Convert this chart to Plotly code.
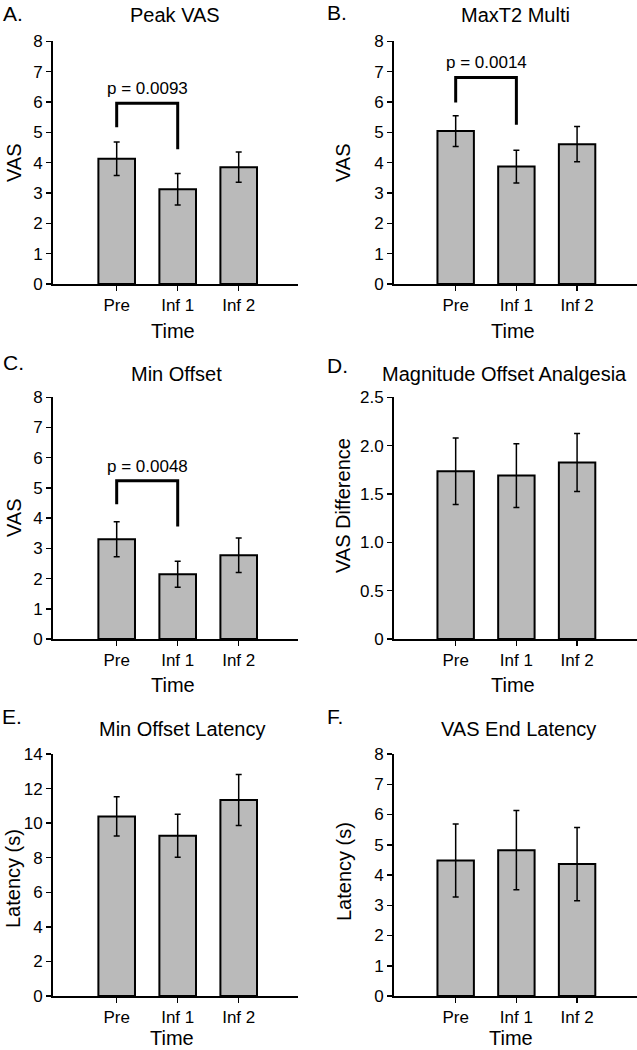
import plotly.graph_objects as go
from plotly.subplots import make_subplots

# ---------------- data ----------------
categories = ["Pre", "Inf 1", "Inf 2"]

peak_vas = [4.13, 3.12, 3.85]
peak_vas_err = [0.55, 0.52, 0.50]

maxt2_multi = [5.04, 3.87, 4.61]
maxt2_multi_err = [0.51, 0.54, 0.58]

min_offset = [3.30, 2.14, 2.77]
min_offset_err = [0.58, 0.43, 0.57]

magnitude_offset = [1.735, 1.69, 1.825]
magnitude_offset_err = [0.345, 0.33, 0.30]

min_offset_latency = [10.39, 9.27, 11.34]
min_offset_latency_err = [1.13, 1.24, 1.47]

vas_end_latency = [4.48, 4.82, 4.36]
vas_end_latency_err = [1.21, 1.31, 1.21]

# significance brackets: [left leg bottom, top, right leg bottom], p-text height, label
bracket_a = [5.17, 5.96, 4.44]
p_a_y, p_a_text = 6.46, "p = 0.0093"
bracket_b = [5.98, 6.81, 5.25]
p_b_y, p_b_text = 7.31, "p = 0.0014"
bracket_c = [4.46, 5.24, 3.72]
p_c_y, p_c_text = 5.70, "p = 0.0048"

titles = ["Peak VAS", "MaxT2 Multi", "Min Offset", "Magnitude Offset Analgesia",
          "Min Offset Latency", "VAS End Latency"]
letters = ["A.", "B.", "C.", "D.", "E.", "F."]
y_titles = ["VAS", "VAS", "VAS", "VAS Difference", "Latency (s)", "Latency (s)"]

y_ticks = [
    [0, 1, 2, 3, 4, 5, 6, 7, 8],
    [0, 1, 2, 3, 4, 5, 6, 7, 8],
    [0, 1, 2, 3, 4, 5, 6, 7, 8],
    [0, 0.5, 1.0, 1.5, 2.0, 2.5],
    [0, 2, 4, 6, 8, 10, 12, 14],
    [0, 1, 2, 3, 4, 5, 6, 7, 8],
]
y_ticktext = [
    ["0", "1", "2", "3", "4", "5", "6", "7", "8"],
    ["0", "1", "2", "3", "4", "5", "6", "7", "8"],
    ["0", "1", "2", "3", "4", "5", "6", "7", "8"],
    ["0", "0.5", "1.0", "1.5", "2.0", "2.5"],
    ["0", "2", "4", "6", "8", "10", "12", "14"],
    ["0", "1", "2", "3", "4", "5", "6", "7", "8"],
]
y_max = [8, 8, 8, 2.5, 14, 8]

values = [peak_vas, maxt2_multi, min_offset, magnitude_offset, min_offset_latency, vas_end_latency]
errors = [peak_vas_err, maxt2_multi_err, min_offset_err, magnitude_offset_err,
          min_offset_latency_err, vas_end_latency_err]

# ---------------- layout geometry (pixels) ----------------
W, H = 637, 1050
FONT = "Liberation Sans, Arial, sans-serif"
BAR_COLOR = "#bababa"

rows_px = [(41.3, 284.0), (397.3, 639.0), (754.0, 996.0)]
cols_px = [(53.0, 298.0), (394.0, 637.0)]
x_ranges = [[-1.044, 2.972], [-1.016, 2.987]]


def px_x(x):
    return x / W


def px_y(y):
    return 1 - y / H


fig = make_subplots(rows=3, cols=2)

for i in range(6):
    r, c = i // 2 + 1, i % 2 + 1
    fig.add_trace(
        go.Bar(
            x=categories,
            y=values[i],
            width=0.6,
            marker=dict(color=BAR_COLOR, line=dict(color="black", width=2)),
            error_y=dict(type="data", array=errors[i], visible=True,
                         color="black", thickness=1.5, width=3),
            showlegend=False,
            hoverinfo="skip",
        ),
        row=r, col=c,
    )

# brackets
for (br, (r, c)) in zip([bracket_a, bracket_b, bracket_c], [(1, 1), (1, 2), (2, 1)]):
    fig.add_trace(
        go.Scatter(
            x=[categories[0], categories[0], categories[1], categories[1]],
            y=[br[0], br[1], br[1], br[2]],
            mode="lines",
            line=dict(color="black", width=3),
            showlegend=False,
            hoverinfo="skip",
        ),
        row=r, col=c,
    )

axis_common = dict(
    showgrid=False, zeroline=False, showline=True, linecolor="black", linewidth=2,
    ticks="outside", ticklen=5, tickwidth=1.5, tickcolor="black",
    tickfont=dict(family=FONT, size=17, color="black"),
    automargin=False,
)

layout_updates = {}
for i in range(6):
    r, c = i // 2, i % 2
    n = "" if i == 0 else str(i + 1)
    x0, x1 = cols_px[c]
    y0, y1 = rows_px[r]
    layout_updates["xaxis" + n] = dict(
        axis_common, domain=[px_x(x0), px_x(x1)], range=x_ranges[c],
        type="category",
    )
    layout_updates["yaxis" + n] = dict(
        axis_common, domain=[px_y(y1), px_y(y0)], range=[0, y_max[i]],
        tickvals=y_ticks[i], ticktext=y_ticktext[i],
    )
fig.update_layout(**layout_updates)

annotations = []


def ann(text, x, y, size, angle=0, xanchor="center"):
    annotations.append(dict(
        text=text, x=px_x(x), y=px_y(y), xref="paper", yref="paper",
        showarrow=False, textangle=angle, xanchor=xanchor, yanchor="middle",
        font=dict(family=FONT, size=size, color="black"),
    ))


# titles
title_pos = [(175, 15), (515, 15), (176, 374), (504, 374), (182, 729), (518, 729)]
for t, (x, y) in zip(titles, title_pos):
    ann(t, x, y, 20)

# panel letters
letter_pos = [(1, 13), (325, 12), (1, 363), (325, 365), (0, 716), (325, 716)]
for t, (x, y) in zip(letters, letter_pos):
    ann(t, x, y, 21, xanchor="left")

# y titles
ytitle_pos = [(14, 163), (343, 163), (14, 518), (343, 506), (13, 879), (344, 872)]
for t, (x, y) in zip(y_titles, ytitle_pos):
    ann(t, x, y, 20, angle=-90)

# x titles
xtitle_pos = [(173, 331), (513, 331), (173, 685), (513, 685), (172, 1038), (511, 1038)]
for (x, y) in xtitle_pos:
    ann("Time", x, y, 20)

# p-values (data coordinates)
for (txt, py, xr, yr) in [(p_a_text, p_a_y, "x", "y"), (p_b_text, p_b_y, "x2", "y2"),
                          (p_c_text, p_c_y, "x3", "y3")]:
    annotations.append(dict(
        text=txt, x=0.5, y=py, xref=xr, yref=yr, showarrow=False,
        xanchor="center", yanchor="middle",
        font=dict(family=FONT, size=17, color="black"),
    ))

fig.update_layout(
    template="none",
    width=W, height=H,
    margin=dict(l=0, r=0, t=0, b=0, autoexpand=False),
    paper_bgcolor="white", plot_bgcolor="white",
    annotations=annotations,
    bargap=0.4,
    showlegend=False,
)

# remove the default page margin so the figure fills the window exactly
fig.write_html(
    "out.html",
    config={"displayModeBar": False, "staticPlot": True},
    post_script="document.body.style.margin='0px';document.body.style.overflow='hidden';",
)
